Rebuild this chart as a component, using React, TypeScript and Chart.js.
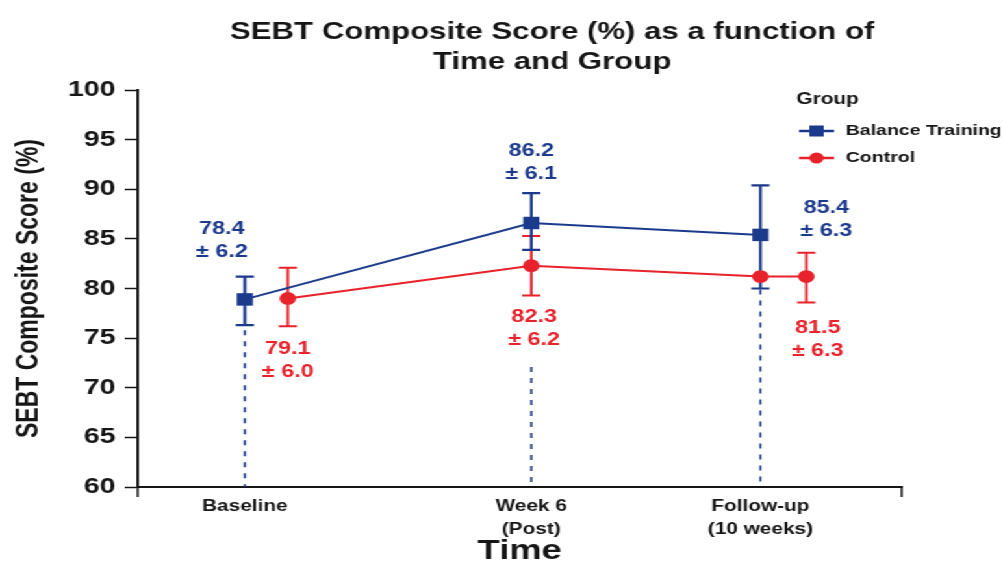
import { useEffect, useRef } from 'react';
import { Chart, registerables } from 'chart.js';

Chart.register(...registerables);

// ---------- data ----------
const titleLines = ['SEBT Composite Score (%) as a function of', 'Time and Group'];
const xTitle = 'Time';
const yTitle = 'SEBT Composite Score (%)';
const legendTitle = 'Group';

const timeLabels = [['Baseline'], ['Week 6', '(Post)'], ['Follow-up', '(10 weeks)']];
const timePos = [0, 1, 1.8];

const yMin = 60;
const yMax = 100;
const yStep = 5;

const balanceLabel = 'Balance Training';
const balanceX = [0, 1, 1.8];
const balanceMean = [78.9, 86.6, 85.4];
const balanceLow = [76.3, 83.9, 80.0];
const balanceHigh = [81.2, 89.6, 90.4];

const controlLabel = 'Control';
const controlX = [0.15, 1, 1.8, 1.96];
const controlMean = [79.0, 82.3, 81.2, 81.2];
const controlLow = [76.2, 79.3, null, 78.6];
const controlHigh = [82.1, 85.3, null, 83.6];

const balanceText = ['78.4', '86.2', '85.4'];
const balanceSD = ['6.2', '6.1', '6.3'];
const balanceTextX = [-0.08, 1.0, 2.03];
const balanceTextY = [86.0, 93.85, 88.15];

const controlText = ['79.1', '82.3', '81.5'];
const controlSD = ['6.0', '6.2', '6.3'];
const controlTextX = [0.15, 1.01, 2.0];
const controlTextY = [73.9, 77.1, 76.0];

const dropX = [0, 1, 1.8];
const dropFrom = [75.8, 72.1, 79.9];

// ---------- style ----------
const BLUE = '#1c3a8c';
const RED = '#e8222a';
const INK = '#161616';
const FONT = '"Liberation Sans", Arial, Helvetica, sans-serif';
const CANVAS_W = 772;
const CANVAS_H = 563;
const STRETCH = 1003 / CANVAS_W;

const annotPlugin = {
  id: 'annot',
  beforeDatasetsDraw(chart: any) {
    const { ctx, scales } = chart;
    const xs = scales.x;
    const ys = scales.y;
    const drawBars = (xv: number[], lo: (number | null)[], hi: (number | null)[], color: string, w: number) => {
      ctx.save();
      ctx.strokeStyle = color;
      ctx.lineWidth = w;
      for (let i = 0; i < xv.length; i++) {
        if (lo[i] == null || hi[i] == null) continue;
        const px = xs.getPixelForValue(xv[i]);
        const p1 = ys.getPixelForValue(lo[i]);
        const p2 = ys.getPixelForValue(hi[i]);
        ctx.beginPath();
        ctx.moveTo(px, p1);
        ctx.lineTo(px, p2);
        ctx.moveTo(px - 7, p1);
        ctx.lineTo(px + 7, p1);
        ctx.moveTo(px - 7, p2);
        ctx.lineTo(px + 7, p2);
        ctx.stroke();
      }
      ctx.restore();
    };
    drawBars(controlX, controlLow, controlHigh, RED, 2);
    drawBars(balanceX, balanceLow, balanceHigh, BLUE, 2.2);
  },
  afterDraw(chart: any) {
    const { ctx, scales, chartArea } = chart;
    const xs = scales.x;
    const ys = scales.y;
    ctx.save();
    // title
    ctx.fillStyle = INK;
    ctx.textAlign = 'center';
    ctx.textBaseline = 'middle';
    ctx.font = `bold 24px ${FONT}`;
    const tcx = (chartArea.left + chartArea.right) / 2 + 25;
    titleLines.forEach((t, i) => ctx.fillText(t, tcx, 32 + i * 30));

    // end ticks of x axis
    ctx.strokeStyle = INK;
    ctx.lineWidth = 1.5;
    ctx.beginPath();
    ctx.moveTo(chartArea.left, chartArea.bottom);
    ctx.lineTo(chartArea.left, chartArea.bottom + 10);
    ctx.moveTo(chartArea.right, chartArea.bottom);
    ctx.lineTo(chartArea.right, chartArea.bottom + 10);
    ctx.stroke();

    // value labels
    ctx.font = `bold 18px ${FONT}`;
    const drawLabels = (tx: number[], ty: number[], m: string[], sd: string[], color: string) => {
      ctx.fillStyle = color;
      for (let i = 0; i < m.length; i++) {
        const px = xs.getPixelForValue(tx[i]);
        const py = ys.getPixelForValue(ty[i]);
        ctx.fillText(m[i], px, py);
        ctx.fillText('\u00B1 ' + sd[i], px, py + 23);
      }
    };
    drawLabels(balanceTextX, balanceTextY, balanceText, balanceSD, BLUE);
    drawLabels(controlTextX, controlTextY, controlText, controlSD, RED);

    // legend
    const lx = 613;
    ctx.textAlign = 'left';
    ctx.fillStyle = INK;
    ctx.font = `bold 16px ${FONT}`;
    ctx.fillText(legendTitle, lx, 100);
    const items = [
      { label: chart.data.datasets[0].label, color: BLUE, shape: 'rect', y: 131 },
      { label: chart.data.datasets[1].label, color: RED, shape: 'circle', y: 158 },
    ];
    ctx.font = `bold 15px ${FONT}`;
    items.forEach((it) => {
      ctx.strokeStyle = it.color;
      ctx.lineWidth = 2.5;
      ctx.beginPath();
      ctx.moveTo(lx + 2, it.y);
      ctx.lineTo(lx + 29, it.y);
      ctx.stroke();
      ctx.fillStyle = it.color;
      if (it.shape === 'rect') {
        ctx.fillRect(lx + 15.5 - 5.5, it.y - 5.5, 11, 11);
      } else {
        ctx.beginPath();
        ctx.arc(lx + 15.5, it.y, 5.5, 0, Math.PI * 2);
        ctx.fill();
      }
      ctx.fillStyle = INK;
      ctx.fillText(it.label, lx + 38, it.y);
    });
    ctx.restore();
  },
};

export default function App() {
  const ref = useRef<HTMLCanvasElement | null>(null);
  useEffect(() => {
    if (!ref.current) return;
    Chart.defaults.font.family = FONT;
    const dropSets = dropX.map((x, i) => ({
      type: 'line' as const,
      label: 'drop' + i,
      data: [
        { x, y: dropFrom[i] },
        { x, y: yMin },
      ],
      borderColor: BLUE,
      borderWidth: 1.6,
      borderDash: [5, 6],
      pointRadius: 0,
      order: 3,
    }));
    const chart = new Chart(ref.current, {
      type: 'line',
      data: {
        datasets: [
          {
            label: balanceLabel,
            data: balanceX.map((x, i) => ({ x, y: balanceMean[i] })),
            borderColor: BLUE,
            backgroundColor: BLUE,
            borderWidth: 2,
            pointStyle: 'rect',
            pointRadius: 8.8,
            pointBorderWidth: 0,
            order: 0,
            clip: false as any,
          },
          {
            label: controlLabel,
            data: controlX.map((x, i) => ({ x, y: controlMean[i] })),
            borderColor: RED,
            backgroundColor: RED,
            borderWidth: 2,
            pointStyle: 'circle',
            pointRadius: 6.4,
            pointBorderWidth: 0,
            order: 1,
            clip: false as any,
          },
          ...dropSets,
        ],
      },
      options: {
        responsive: false,
        animation: false,
        layout: { padding: { top: 90, right: 78, left: 0, bottom: 0 } },
        plugins: {
          legend: { display: false },
          tooltip: { enabled: false },
          title: { display: false },
        },
        scales: {
          x: {
            type: 'linear',
            min: -0.374,
            max: 2.293,
            afterFit: (s: any) => {
              s.height = 76;
            },
            afterBuildTicks: (s: any) => {
              s.ticks = timePos.map((v) => ({ value: v }));
            },
            ticks: {
              autoSkip: false,
              maxRotation: 0,
              padding: 8,
              color: INK,
              font: { size: 16, weight: 'bold', lineHeight: 1.45 },
              callback: (_v: any, i: number) => timeLabels[i],
            },
            grid: { display: false, drawTicks: false },
            border: { display: true, color: INK, width: 2 },
            title: {
              display: true,
              text: xTitle,
              color: INK,
              font: { size: 28, weight: 'bold', lineHeight: 0.86 },
              padding: { top: 0, bottom: 0 },
            },
          },
          y: {
            min: yMin,
            max: yMax,
            afterFit: (s: any) => {
              s.width = 106;
            },
            ticks: {
              stepSize: yStep,
              padding: 7,
              color: INK,
              font: { size: 22, weight: 'bold' },
            },
            grid: {
              drawOnChartArea: false,
              drawTicks: true,
              tickLength: 10,
              tickColor: INK,
              tickWidth: 1.5,
            },
            border: { display: true, color: INK, width: 2 },
            title: {
              display: true,
              text: yTitle,
              color: INK,
              font: { size: 23, weight: 'bold', lineHeight: 1.2 },
              padding: { top: 9, bottom: 0 },
            },
          },
        },
      } as any,
      plugins: [annotPlugin],
    });
    return () => chart.destroy();
  }, []);
  return (
    <div
      style={{
        position: 'fixed',
        left: 0,
        top: 0,
        width: CANVAS_W,
        height: CANVAS_H,
        background: '#fff',
        transform: `scaleX(${STRETCH})`,
        transformOrigin: '0 0',
      }}
    >
      <canvas ref={ref} width={CANVAS_W} height={CANVAS_H} style={{ width: CANVAS_W, height: CANVAS_H, display: 'block' }} />
    </div>
  );
}
